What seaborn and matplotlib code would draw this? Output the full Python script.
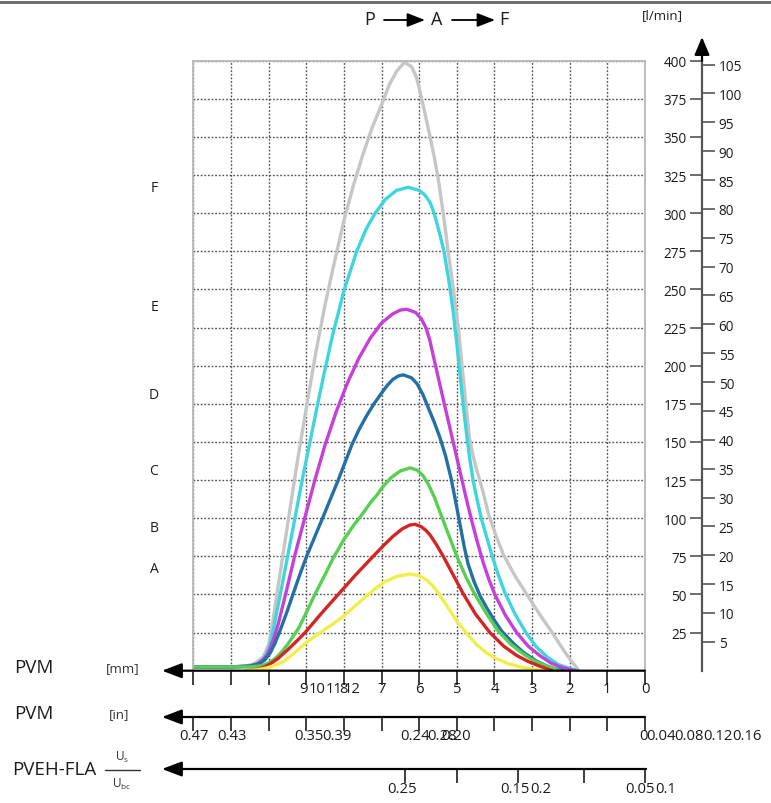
import matplotlib
matplotlib.use("Agg")
import matplotlib.pyplot as plt
import matplotlib.transforms as mtransforms
from matplotlib.lines import Line2D
from matplotlib.patches import FancyArrowPatch
import pandas as pd
import seaborn as sns

# ---------------- data ----------------
series_names = ["max", "F", "E", "D", "C", "B", "A"]
series_colors = ["#c6c6c6", "#3fd5dc", "#c63fd8", "#236fa6", "#58cf52", "#d42424", "#f1ee4c"]

max_mm = [12.0, 11.0, 10.6, 10.35, 10.15, 10.0, 9.9, 9.75, 9.5, 9.25, 9.0, 8.75, 8.5, 8.25, 8.0,
          7.75, 7.5, 7.25, 7.0, 6.8, 6.6, 6.39, 6.2, 6.07, 5.98, 5.85, 5.71, 5.6, 5.49, 5.36,
          5.23, 5.09, 4.96, 4.86, 4.76, 4.66, 4.56, 4.45, 4.3, 4.16, 3.95, 3.76, 3.45, 3.14, 2.8,
          2.44, 2.15, 1.95, 1.78]
max_lpm = [2.5, 2.5, 3.0, 5.0, 9.0, 17.0, 30.0, 55.0, 95.0, 135.0, 172.0, 208.0, 240.0, 268.0, 295.0,
           318.0, 338.0, 356.0, 371.0, 384.0, 393.0, 399.0, 396.0, 389.0, 380.0, 366.0, 350.0, 337.0, 322.0, 300.0,
           275.0, 250.0, 225.0, 200.0, 175.0, 152.0, 140.0, 130.0, 117.0, 103.0, 88.0, 76.0, 62.0, 50.0, 37.0,
           24.0, 13.0, 6.0, 1.0]

f_mm = [12.0, 11.0, 10.4, 10.2, 10.05, 9.95, 9.85, 9.65, 9.48, 9.3, 9.1, 8.9, 8.72, 8.55, 8.3, 8.0,
        7.66, 7.4, 7.17, 6.9, 6.6, 6.29, 6.0, 5.85, 5.71, 5.6, 5.47, 5.34, 5.2, 5.1, 5.02, 4.95,
        4.88, 4.8, 4.74, 4.65, 4.56, 4.45, 4.34, 4.2, 4.07, 3.9, 3.72, 3.45, 3.19, 2.9, 2.6, 2.3,
        2.0, 1.77]
f_lpm = [2.5, 2.5, 3.0, 6.0, 11.0, 18.0, 30.0, 55.0, 77.0, 100.0, 126.0, 150.0, 172.0, 192.0, 220.0, 249.0,
         275.0, 290.0, 300.0, 309.0, 315.0, 317.0, 315.0, 312.0, 307.0, 300.0, 288.0, 275.0, 254.0, 236.0, 219.0, 203.0,
         186.0, 168.0, 155.0, 138.0, 124.0, 111.0, 99.0, 87.0, 76.0, 63.0, 51.0, 37.0, 26.0, 16.0, 9.0, 4.0,
         1.5, 0.0]

e_mm = [12.0, 11.0, 10.5, 10.3, 10.15, 10.05, 9.95, 9.85, 9.74, 9.52, 9.3, 9.03, 8.77, 8.5, 8.2, 7.9,
        7.6, 7.3, 7.0, 6.7, 6.5, 6.33, 6.1, 5.95, 5.82, 5.72, 5.62, 5.5, 5.36, 5.2, 5.05, 4.9,
        4.75, 4.6, 4.45, 4.3, 4.15, 3.99, 3.7, 3.41, 3.1, 2.8, 2.5, 2.2, 1.85]
e_lpm = [2.5, 2.5, 3.0, 4.5, 7.0, 10.0, 15.0, 22.0, 31.0, 53.0, 76.0, 101.0, 125.0, 148.0, 170.0, 189.0,
         205.0, 218.0, 228.0, 234.0, 236.5, 237.0, 235.0, 231.0, 225.0, 217.0, 206.0, 193.0, 178.0, 161.0, 145.0, 129.0,
         113.0, 98.0, 84.0, 71.0, 60.0, 50.0, 36.0, 25.0, 16.0, 10.0, 5.0, 2.0, 0.0]

d_mm = [12.0, 11.0, 10.5, 10.25, 10.1, 9.95, 9.83, 9.7, 9.52, 9.34, 9.17, 8.99, 8.77, 8.55, 8.35, 8.15,
        7.97, 7.79, 7.6, 7.4, 7.2, 7.0, 6.85, 6.7, 6.55, 6.42, 6.2, 6.05, 5.9, 5.75, 5.6, 5.45,
        5.3, 5.15, 5.0, 4.9, 4.8, 4.7, 4.55, 4.38, 4.2, 4.0, 3.81, 3.5, 3.23, 2.9, 2.6, 2.4, 2.18]
d_lpm = [2.5, 2.5, 3.0, 4.5, 7.0, 12.0, 18.0, 26.0, 38.0, 51.0, 63.0, 75.0, 88.0, 101.0, 113.0, 125.0,
         136.5, 148.0, 158.0, 167.0, 175.0, 182.0, 187.0, 191.0, 193.3, 194.0, 192.0, 188.0, 181.0, 172.0, 163.0, 153.0,
         141.0, 126.0, 107.0, 94.0, 81.0, 70.0, 59.0, 49.0, 41.0, 33.0, 26.0, 18.0, 12.0, 6.5, 3.0, 1.3, 0.0]

c_mm = [12.0, 11.0, 10.5, 10.2, 10.0, 9.85, 9.7, 9.5, 9.2, 8.98, 8.77, 8.5, 8.28, 8.0, 7.75, 7.5,
        7.3, 7.13, 6.95, 6.75, 6.5, 6.24, 6.05, 5.9, 5.75, 5.6, 5.4, 5.2, 5.0, 4.75, 4.52, 4.2,
        3.9, 3.55, 3.23, 2.95, 2.7, 2.45, 2.26]
c_lpm = [2.5, 2.5, 2.5, 3.2, 5.0, 7.5, 11.0, 17.0, 28.0, 39.0, 50.0, 63.0, 74.0, 86.0, 95.0, 103.0,
         110.0, 115.0, 121.0, 126.5, 131.0, 133.0, 131.5, 128.0, 122.0, 114.0, 101.0, 88.0, 75.0, 61.0, 50.0, 37.0,
         26.0, 17.0, 11.0, 6.5, 4.0, 1.6, 0.0]

b_mm = [10.6, 10.35, 10.15, 9.95, 9.75, 9.5, 9.25, 9.03, 8.6, 8.15, 7.7, 7.26, 6.95, 6.7, 6.45, 6.25,
        6.11, 5.95, 5.82, 5.71, 5.55, 5.36, 5.1, 4.83, 4.5, 4.12, 3.75, 3.41, 3.1, 2.8, 2.47]
b_lpm = [0.0, 0.7, 2.0, 4.5, 8.0, 13.5, 19.5, 25.0, 37.5, 50.0, 62.5, 74.0, 82.0, 88.0, 93.0, 95.5,
         96.0, 94.5, 92.0, 89.0, 83.0, 75.0, 63.0, 50.5, 37.0, 25.0, 16.0, 10.0, 6.0, 3.0, 0.0]

a_mm = [10.6, 10.3, 10.05, 9.8, 9.6, 9.3, 8.99, 8.63, 8.3, 8.02, 7.7, 7.4, 7.13, 6.9, 6.6, 6.24,
        6.0, 5.8, 5.65, 5.49, 5.25, 5.0, 4.74, 4.47, 4.2, 3.95, 3.67, 3.4, 3.1, 2.7]
a_lpm = [0.0, 0.6, 1.8, 3.8, 6.0, 12.0, 18.6, 25.0, 30.5, 35.5, 42.5, 49.0, 54.5, 58.5, 61.8, 63.4,
         62.3, 59.5, 56.0, 51.0, 42.0, 32.5, 24.5, 17.0, 11.5, 8.0, 5.0, 3.0, 1.5, 0.0]

curve_mm = [max_mm, f_mm, e_mm, d_mm, c_mm, b_mm, a_mm]
curve_lpm = [max_lpm, f_lpm, e_lpm, d_lpm, c_lpm, b_lpm, a_lpm]

curve_label_names = ["F", "E", "D", "C", "B", "A"]
curve_label_lpm = [317, 239, 181, 131, 94, 67]

lpm_ticks = list(range(25, 401, 25))
gpm_ticks = list(range(5, 106, 5))
LPM_PER_GPM = 3.78541

mm_ticks = list(range(0, 13))
# printed stroke-scale labels and where they appear (in mm along the axis)
mm_labels = ["0", "1", "2", "3", "4", "5", "6", "7", "8", "9", "10", "11", "12"]
mm_label_at = [0, 1, 2, 3, 4, 5, 6, 7, 8.02, 9.07, 8.72, 8.27, 7.78]
in_labels = ["0.47", "0.43", "0.35", "0.39", "0.24", "0.28", "0.20", "0", "0.04", "0.08", "0.12", "0.16"]
in_label_at = [11.98, 10.97, 8.93, 8.18, 6.11, 5.39, 5.02, 0.04, -0.43, -1.17, -1.94, -2.71]
ratio_tick_at = [6.38, 4.99, 3.37, 1.62, 0.0]
ratio_labels = ["0.25", "0.15", "0.2", "0.05", "0.1"]
ratio_label_at = [6.46, 3.45, 2.76, 0.13, -0.56]

# ---------------- layout helpers ----------------
W, H = 771, 804
def fx(x):
    return x / W
def fy(y):
    return 1 - y / H

AX_L, AX_R, AX_T, AX_B = 193.3, 645.0, 61.7, 671.7
Y_IN, Y_RATIO, X_RIGHT = 718.0, 770.0, 702.0

sns.set_style("white")
plt.rcParams["font.family"] = ["Open Sans", "DejaVu Sans"]
INK = "#1c1c1c"
SCALE_FS = 10.7

fig = plt.figure(figsize=(W / 100, H / 100), dpi=100)
ax = fig.add_axes([fx(AX_L), fy(AX_B), fx(AX_R) - fx(AX_L), fy(AX_T) - fy(AX_B)])

rows = []
for name, xs, ys in zip(series_names, curve_mm, curve_lpm):
    for xv, yv in zip(xs, ys):
        rows.append({"series": name, "mm": xv, "lpm": yv})
df = pd.DataFrame(rows)

sns.lineplot(data=df, x="mm", y="lpm", hue="series", hue_order=series_names,
             palette=dict(zip(series_names, series_colors)), estimator=None, sort=False,
             linewidth=2.4, legend=False, ax=ax, solid_joinstyle="round", solid_capstyle="round")

ax.set_xlim(12, 0)
ax.set_ylim(0, 400)
ax.set_xlabel("")
ax.set_ylabel("")
ax.set_xticks([])
ax.set_xticks(mm_ticks, minor=True)
ax.set_yticks(lpm_ticks)
ax.tick_params(axis="y", which="both", length=0, labelleft=False, left=False)
ax.tick_params(axis="x", which="minor", bottom=True, length=10, width=1.2, direction="out", color=INK)
ax.set_axisbelow(True)
ax.grid(which="minor", axis="x", color="#555555", linestyle=(0, (1.3, 1.3)), linewidth=1.0)
ax.grid(which="major", axis="y", color="#555555", linestyle=(0, (1.3, 1.3)), linewidth=1.0)
for s in ["left", "top", "right"]:
    ax.spines[s].set_color("#b8b8b8")
    ax.spines[s].set_linewidth(1.3)
ax.spines["bottom"].set_visible(False)

tr_xdata = mtransforms.blended_transform_factory(ax.transData, fig.transFigure)
for lab, pos in zip(mm_labels, mm_label_at):
    ax.text(pos, fy(690), lab, transform=tr_xdata, ha="center", va="center",
            fontsize=SCALE_FS, color=INK, clip_on=False)

tr_ydata = mtransforms.blended_transform_factory(fig.transFigure, ax.transData)
for lab, val in zip(curve_label_names, curve_label_lpm):
    ax.text(fx(154), val, lab, transform=tr_ydata, ha="center", va="center", fontsize=10, color=INK)

arrow_kw = dict(arrowstyle="-|>,head_length=1.0,head_width=0.38", mutation_scale=12,
                color="black", lw=1.6, shrinkA=0, shrinkB=0)

def axis_arrow(y, x_right):
    fig.add_artist(FancyArrowPatch((fx(x_right), fy(y)), (fx(162), fy(y)),
                                   transform=fig.transFigure, **arrow_kw))

axis_arrow(AX_B, AX_R)

def scale_axes(y):
    a = fig.add_axes([fx(AX_L), fy(y), fx(AX_R) - fx(AX_L), 1e-4])
    a.set_xlim(12, 0)
    a.set_ylim(0, 1)
    a.patch.set_visible(False)
    for s in a.spines.values():
        s.set_visible(False)
    a.set_yticks([])
    return a

# inch axis
ax_in = scale_axes(Y_IN)
ax_in.set_xticks([])
ax_in.set_xticks(mm_ticks, minor=True)
ax_in.tick_params(axis="x", which="minor", bottom=True, length=10, width=1.2, direction="out", color=INK)
tr_in = mtransforms.blended_transform_factory(ax_in.transData, fig.transFigure)
for lab, pos in zip(in_labels, in_label_at):
    ax_in.text(pos, fy(737), lab, transform=tr_in, ha="center", va="center",
               fontsize=SCALE_FS, color=INK, clip_on=False)
axis_arrow(Y_IN, AX_R)

# ratio axis
ax_r = scale_axes(Y_RATIO)
ax_r.set_xticks(ratio_tick_at)
ax_r.set_xticklabels([])
ax_r.tick_params(axis="x", which="major", bottom=True, length=10, width=1.2, direction="out", color=INK)
tr_r = mtransforms.blended_transform_factory(ax_r.transData, fig.transFigure)
for lab, pos in zip(ratio_labels, ratio_label_at):
    ax_r.text(pos, fy(790), lab, transform=tr_r, ha="center", va="center",
              fontsize=SCALE_FS, color=INK, clip_on=False)
axis_arrow(Y_RATIO, AX_R + 1)

# right flow axes (l/min on the left of the line, US gpm on the right)
axq = fig.add_axes([fx(X_RIGHT), fy(AX_B), 1e-4, fy(AX_T) - fy(AX_B)])
axq.set_ylim(0, 400)
axq.set_xticks([])
axq.patch.set_visible(False)
for s in ["top", "right", "bottom"]:
    axq.spines[s].set_visible(False)
axq.spines["left"].set_color("#555555")
axq.spines["left"].set_linewidth(1.6)
axq.set_yticks(lpm_ticks)
axq.set_yticklabels([str(v) for v in lpm_ticks])
axq.tick_params(axis="y", left=True, length=9, width=1.2, direction="out", color="#555555",
                labelsize=9.8, labelcolor=INK, pad=2)

axg = fig.add_axes([fx(X_RIGHT), fy(AX_B), 1e-4, fy(AX_T) - fy(AX_B)])
axg.set_ylim(0, 400 / LPM_PER_GPM)
axg.set_xticks([])
axg.patch.set_visible(False)
for s in axg.spines.values():
    s.set_visible(False)
axg.yaxis.tick_right()
axg.set_yticks(gpm_ticks)
axg.set_yticklabels([str(v) for v in gpm_ticks])
axg.tick_params(axis="y", right=True, left=False, length=9, width=1.2, direction="out", color="#555555",
                labelsize=9.8, labelcolor=INK, pad=3)

fig.add_artist(FancyArrowPatch((fx(X_RIGHT), fy(AX_T)), (fx(X_RIGHT), fy(38)), transform=fig.transFigure,
                               arrowstyle="-|>,head_length=0.9,head_width=0.38", mutation_scale=12,
                               color="black", lw=1.6, shrinkA=0, shrinkB=0))

# texts
fig.text(fx(662), fy(16), "[l/min]", ha="center", va="center", fontsize=9.5, color=INK)
fig.text(fx(370), fy(20), "P", ha="center", va="center", fontsize=13, color=INK)
fig.text(fx(437), fy(20), "A", ha="center", va="center", fontsize=13, color=INK)
fig.text(fx(504), fy(20), "F", ha="center", va="center", fontsize=13, color=INK)
for x0, x1 in [(384, 425), (452, 495)]:
    fig.add_artist(FancyArrowPatch((fx(x0), fy(21)), (fx(x1), fy(21)), transform=fig.transFigure,
                                   arrowstyle="-|>,head_length=0.9,head_width=0.35", mutation_scale=12,
                                   color="black", lw=1.3, shrinkA=0, shrinkB=0))

fig.text(fx(14), fy(668), "PVM", ha="left", va="center", fontsize=13.5, color=INK)
fig.text(fx(106), fy(669), "[mm]", ha="left", va="center", fontsize=9.5, color="#333333")
fig.text(fx(14), fy(714), "PVM", ha="left", va="center", fontsize=13.5, color=INK)
fig.text(fx(109), fy(715), "[in]", ha="left", va="center", fontsize=9.5, color="#333333")
fig.text(fx(12), fy(770), "PVEH-FLA", ha="left", va="center", fontsize=13.5, color=INK)
fig.text(fx(122), fy(757), r"$\mathregular{U_s}$", ha="center", va="center", fontsize=8.5, color="#333333")
fig.text(fx(122), fy(784), r"$\mathregular{U_{bc}}$", ha="center", va="center", fontsize=8.5, color="#333333")
fig.add_artist(Line2D([fx(105), fx(140)], [fy(771), fy(771)], transform=fig.transFigure, color="#333333", lw=1.0))

fig.add_artist(Line2D([0, 1], [fy(3), fy(3)], transform=fig.transFigure, color="#666666", lw=2.0))

fig.savefig("out.png", dpi=100, facecolor="white")
